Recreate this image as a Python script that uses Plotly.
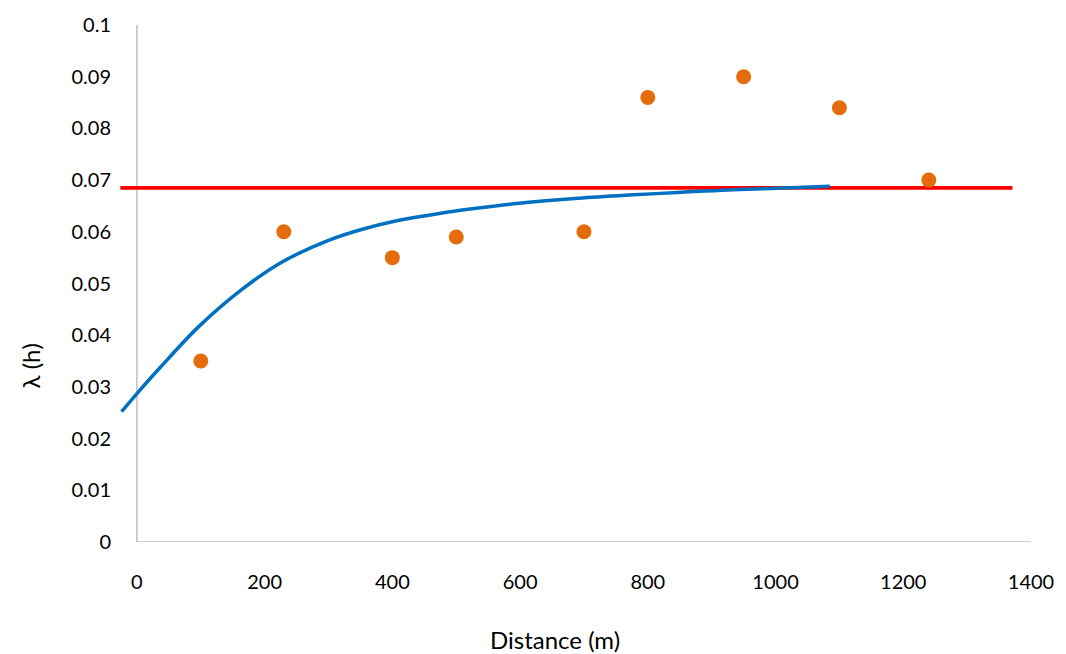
import plotly.graph_objects as go

# Observed semivariance points
obs_x = [100, 230, 400, 500, 700, 800, 950, 1100, 1240]
obs_y = [0.035, 0.060, 0.055, 0.059, 0.060, 0.086, 0.090, 0.084, 0.070]

# Fitted model curve
fit_x = [-24, 0, 36, 98, 166, 228, 301, 353, 405, 457, 509, 561, 613, 691, 770, 847, 925, 1002, 1085]
fit_y = [0.0252, 0.0287, 0.0337, 0.0418, 0.0490, 0.0542, 0.0584, 0.0605, 0.0621,
         0.0632, 0.0642, 0.0650, 0.0657, 0.0665, 0.0671, 0.0676, 0.0681, 0.0684, 0.0688]

# Sill line
sill_x = [-26, 1371]
sill_y = [0.0685, 0.0685]

x_ticks = [0, 200, 400, 600, 800, 1000, 1200, 1400]
y_ticks = [0, 0.01, 0.02, 0.03, 0.04, 0.05, 0.06, 0.07, 0.08, 0.09, 0.1]
y_tick_text = ["0", "0.01", "0.02", "0.03", "0.04", "0.05", "0.06", "0.07", "0.08", "0.09", "0.1"]

FONT = "Lato"
W, H = 1066, 654
L, R, T, B = 120, 31, 22, 112

fig = go.Figure()
fig.add_trace(go.Scatter(x=sill_x, y=sill_y, mode="lines",
                         line=dict(color="#FF0000", width=3.8), showlegend=False))
fig.add_trace(go.Scatter(x=fit_x, y=fit_y, mode="lines",
                         line=dict(color="#0070C0", width=3.5, shape="spline", smoothing=1.0),
                         showlegend=False))
fig.add_trace(go.Scatter(x=obs_x, y=obs_y, mode="markers",
                         marker=dict(color="#E46C0A", size=15), showlegend=False))

# axis lines (y axis sits at x=0)
fig.add_shape(type="line", xref="x", yref="y", x0=0, x1=0, y0=0, y1=0.1,
              line=dict(color="#BFBFBF", width=1.5), layer="below")
fig.add_shape(type="line", xref="x", yref="y", x0=0, x1=1400, y0=0, y1=0,
              line=dict(color="#BFBFBF", width=1.5), layer="below")

pw = W - L - R
ph = H - T - B

fig.update_layout(
    width=W, height=H,
    margin=dict(l=L, r=R, t=T, b=B),
    paper_bgcolor="white", plot_bgcolor="white",
    font=dict(family=FONT, size=20, color="#000000"),
    xaxis=dict(range=[-26.5, 1400], tickvals=x_ticks, showgrid=False, zeroline=False,
               showline=False, ticks="", ticklabelstandoff=26,
               tickfont=dict(family=FONT, size=20)),
    yaxis=dict(range=[0, 0.1], tickvals=y_ticks, ticktext=y_tick_text, showgrid=False,
               zeroline=False, showline=False, ticks="", ticklabelstandoff=8,
               tickfont=dict(family=FONT, size=20)),
    annotations=[
        dict(text="Distance (m)", x=(557 - L) / pw, y=-(640 - (H - B)) / ph,
             xref="paper", yref="paper", xanchor="center", yanchor="middle",
             showarrow=False, font=dict(family=FONT, size=24)),
        dict(text="λ (h)", x=-(L - 30) / pw, y=((H - B) - 365) / ph,
             xref="paper", yref="paper", xanchor="center", yanchor="middle",
             showarrow=False, textangle=-90, font=dict(family=FONT, size=24)),
    ],
)

fig.write_html("out.html", config={"displayModeBar": False},
               post_script="document.body.style.margin='0';document.body.style.overflow='hidden';")
